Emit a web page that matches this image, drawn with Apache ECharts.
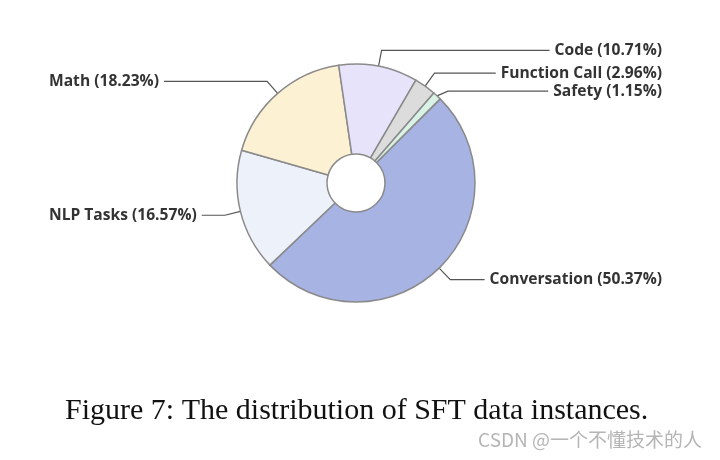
<!DOCTYPE html>
<html>
<head>
<meta charset="utf-8">
<script src="https://cdn.jsdelivr.net/npm/echarts@6/dist/echarts.min.js"></script>
<style>
  html, body { margin: 0; padding: 0; background: #fff; }
  #main { width: 720px; height: 460px; }
</style>
</head>
<body>
<div id="main"></div>
<script>
// data
let names = ["Conversation", "NLP Tasks", "Math", "Code", "Function Call", "Safety"];
let values = [50.37, 16.57, 18.23, 10.71, 2.96, 1.15];
let colors = ["#a6b3e3", "#edf1fa", "#fdf1d3", "#e6e3fb", "#dcdcdc", "#d9f2e6"];

let pieData = [];
for (let i = 0; i < names.length; i++) {
    pieData.push({
        name: names[i],
        value: values[i],
        itemStyle: { color: colors[i] }
    });
}

let myChart = echarts.init(document.getElementById("main"));
let option = {
    backgroundColor: "#fff",
    animation: false,
    series: [{
        type: "pie",
        left: 9,
        top: 0,
        width: 693,
        height: 460,
        center: [347, 183],
        radius: [29, 119],
        startAngle: 45,
        clockwise: true,
        avoidLabelOverlap: true,
        data: pieData,
        itemStyle: {
            borderColor: "#8a8a8a",
            borderWidth: 1.5
        },
        label: {
            show: true,
            formatter: function (p) {
                return p.name + " (" + p.value.toFixed(2) + "%)";
            },
            fontFamily: "Open Sans",
            fontWeight: "bold",
            fontSize: 15.6,
            color: "#333",
            alignTo: "edge",
            edgeDistance: 40
        },
        labelLine: {
            show: true,
            length: 16,
            length2: 10,
            lineStyle: { color: "#555", width: 1.2 }
        }
    }],
    graphic: [{
        type: "text",
        left: 65,
        top: 396,
        style: {
            text: "Figure 7: The distribution of SFT data instances.",
            font: "30px 'Liberation Serif'",
            fill: "#111"
        }
    }, {
        type: "text",
        right: 18,
        top: 430,
        style: {
            text: "CSDN @一个不懂技术的人",
            font: "19px 'Noto Sans CJK SC'",
            fill: "#b5b5b5"
        }
    }]
};
myChart.setOption(option);
</script>
</body>
</html>
